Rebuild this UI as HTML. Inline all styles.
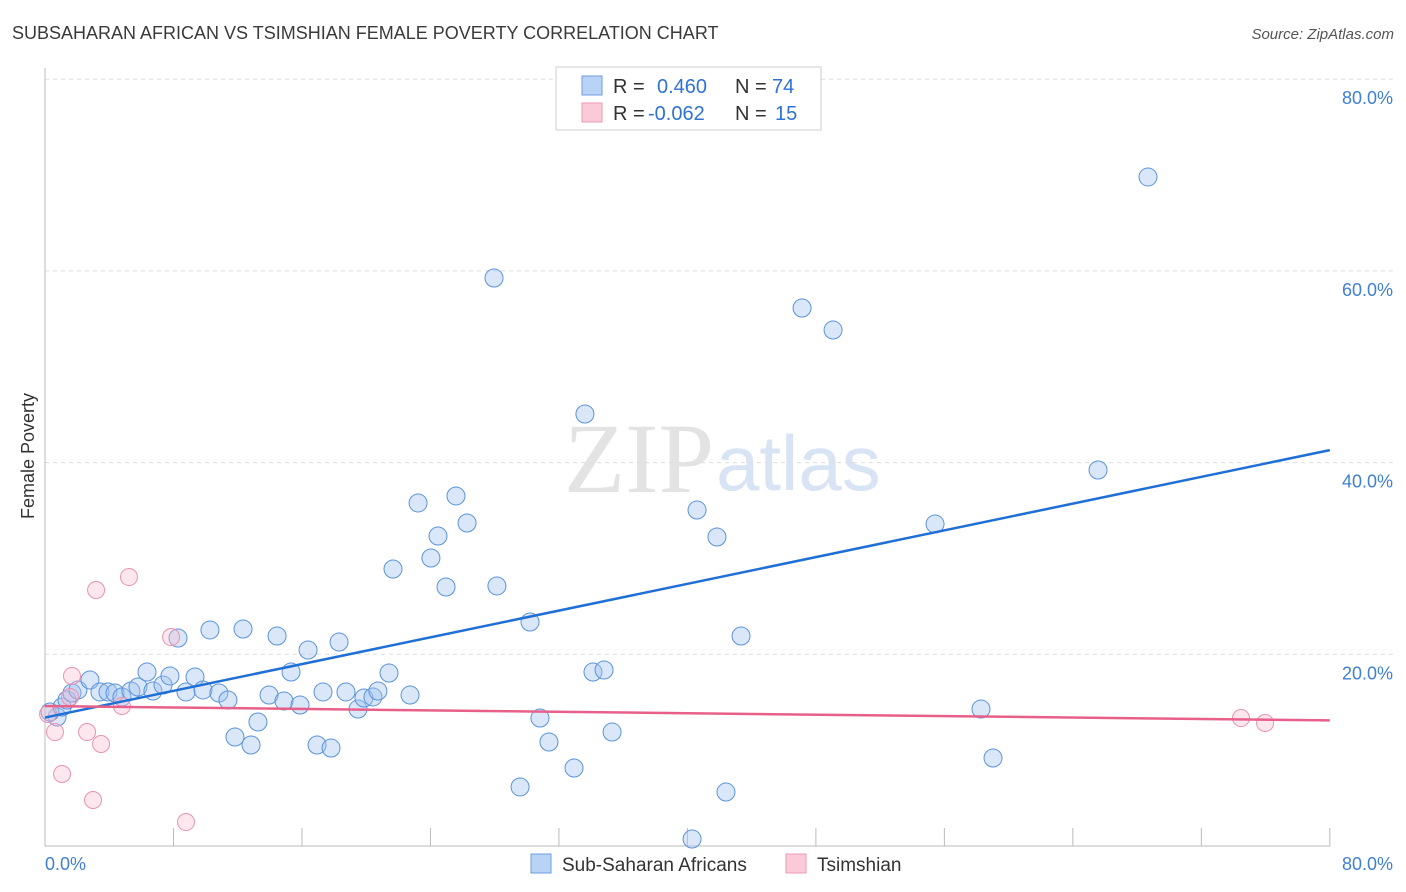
<!DOCTYPE html>
<html><head><meta charset="utf-8"><style>
body{margin:0;background:#fff;font-family:"Liberation Sans",sans-serif;}
</style></head><body>
<svg id="chart" width="1406" height="892" style="display:block">
<text x="12" y="39" font-size="18" fill="#3a3a3a">SUBSAHARAN AFRICAN VS TSIMSHIAN FEMALE POVERTY CORRELATION CHART</text>
<text x="1394" y="39" font-size="15" fill="#555" font-style="italic" text-anchor="end">Source: ZipAtlas.com</text>
<text x="714" y="492" font-size="100" fill="#e3e3e3" font-family="Liberation Serif,serif" text-anchor="end">ZIP</text>
<text x="716" y="490" font-size="78" fill="#d8e4f4">atlas</text>
<g id="grid"></g>
<g id="axes"></g>
<g id="pts"></g>
<g id="lines"></g>
<text transform="translate(34,456) rotate(-90)" font-size="18" fill="#333" text-anchor="middle">Female Poverty</text>
<g>
<rect x="556" y="67" width="265" height="63" fill="#fff" stroke="#ccc"/>
<rect x="582" y="76" width="20" height="19" fill="#b9d3f4" stroke="#6d9ee0"/>
<rect x="582" y="103" width="20" height="19" fill="#fbcad8" stroke="#ee9ab3"/>
<text x="613" y="93" font-size="20" fill="#333">R = </text><text x="657" y="93" font-size="20" fill="#2f73d3">0.460</text>
<text x="735" y="93" font-size="20" fill="#333">N = </text><text x="772" y="93" font-size="20" fill="#2f73d3">74</text>
<text x="613" y="120" font-size="20" fill="#333">R = </text><text x="648" y="120" font-size="20" fill="#2f73d3">-0.062</text>
<text x="735" y="120" font-size="20" fill="#333">N = </text><text x="775" y="120" font-size="20" fill="#2f73d3">15</text>
</g>
<g>
<rect x="531" y="854" width="20" height="19" fill="#b9d3f4" stroke="#6d9ee0"/>
<text x="562" y="871" font-size="19" fill="#333">Sub-Saharan Africans</text>
<rect x="786" y="854" width="20" height="19" fill="#fbcad8" stroke="#ee9ab3"/>
<text x="817" y="871" font-size="19" fill="#333">Tsimshian</text>
</g>
</svg>
<script>
const blueX=[0.75,0.31,1.06,1.37,1.68,2.05,2.80,3.42,3.92,4.36,4.79,5.35,5.79,6.35,6.72,7.35,7.78,8.28,8.78,9.34,9.84,10.27,10.83,11.39,11.83,12.33,12.83,13.26,13.95,14.45,14.88,15.32,15.88,16.38,16.94,17.31,17.81,18.31,18.74,19.49,19.86,20.42,20.73,21.42,21.67,22.73,23.23,24.03,24.47,24.97,25.59,26.28,27.96,28.14,29.58,30.2,30.82,31.38,32.94,33.62,34.12,34.81,35.31,40.29,40.6,41.84,42.4,43.34,47.14,49.07,55.42,58.28,59.03,65.57,68.68];
const blueY=[13.46,13.98,14.5,15.23,15.96,16.28,17.32,16.07,16.07,15.96,15.55,16.17,16.59,18.15,16.17,16.8,17.74,21.7,16.07,17.63,16.28,22.54,15.96,15.23,11.37,22.64,10.54,12.94,15.75,21.91,15.13,18.15,14.71,20.45,10.54,16.07,10.22,21.28,16.07,14.29,15.44,15.55,16.17,18.05,28.9,15.75,35.79,30.05,32.34,27.02,36.52,33.7,59.26,27.13,6.16,23.37,13.35,10.85,8.14,45.07,18.15,18.36,11.89,0.73,35.05,32.24,5.63,21.91,56.13,53.83,33.59,14.29,9.18,39.23,69.8];
const pinkX=[0.19,0.62,1.06,1.68,1.56,2.62,2.99,3.18,3.49,4.79,5.23,7.85,8.78,74.47,75.97];
const pinkY=[13.77,11.89,7.51,17.74,15.55,11.89,4.8,26.71,10.64,14.61,28.06,21.8,2.5,13.35,12.83];
const blueTrend=[13.4,41.3];
const pinkTrend=[14.6,13.1];
const yTicks=[20,40,60,80];
const yTickLabels=["20.0%","40.0%","60.0%","80.0%"];
const xTicks=[0,8,16,24,32,40,48,56,64,72,80];
const NS="http://www.w3.org/2000/svg";
const sx=v=>45+v*16.06, sy=v=>846-v*9.585;
function mk(tag,attrs,parent){const e=document.createElementNS(NS,tag);for(const k in attrs)e.setAttribute(k,attrs[k]);parent.appendChild(e);return e;}
const grid=document.getElementById('grid'),axes=document.getElementById('axes'),pts=document.getElementById('pts'),lines=document.getElementById('lines');
yTicks.forEach((t,i)=>{
 const l=mk('line',{x1:45,x2:1394,y1:sy(t),y2:sy(t),stroke:'#ddd','stroke-dasharray':'4,4'},grid);
 
 
 const tx=mk('text',{x:1393,y:sy(t)+25,'font-size':18,fill:'#3f7fd4','text-anchor':'end'},grid);
 tx.textContent=yTickLabels[i];
 
 
});
const ya=mk('line',{x1:45,x2:45,y1:68,y2:846,stroke:'#bbb'},axes);


const xa=mk('line',{x1:45,x2:1330,y1:846,y2:846,stroke:'#bbb'},axes);


xTicks.slice(1).forEach(t=>{
 const l=mk('line',{x1:sx(t),x2:sx(t),y1:828,y2:846,stroke:'#bbb'},axes);
 
 
});
const x0=mk('text',{x:45,y:870,'font-size':18,fill:'#3f7fd4'},axes);x0.textContent='0.0%';


const x1=mk('text',{x:1393,y:870,'font-size':18,fill:'#3f7fd4','text-anchor':'end'},axes);x1.textContent='80.0%';


blueX.forEach((v,i)=>{
 const c=mk('circle',{cx:sx(v),cy:sy(blueY[i]),r:9,fill:'rgba(160,195,240,0.4)',stroke:'#5b93dc','stroke-width':1},pts);
 
 
});
pinkX.forEach((v,i)=>{
 const c=mk('circle',{cx:sx(v),cy:sy(pinkY[i]),r:8.5,fill:'rgba(248,185,205,0.35)',stroke:'#eb93ae','stroke-width':1},pts);
 
 
});
const bl=mk('line',{x1:sx(0),x2:sx(80),y1:sy(blueTrend[0]),y2:sy(blueTrend[1]),stroke:'#1f6fd6','stroke-width':2.5},lines);


const pl=mk('line',{x1:sx(0),x2:sx(80),y1:sy(pinkTrend[0]),y2:sy(pinkTrend[1]),stroke:'#e8608a','stroke-width':2.5},lines);


</script>
</body></html>
